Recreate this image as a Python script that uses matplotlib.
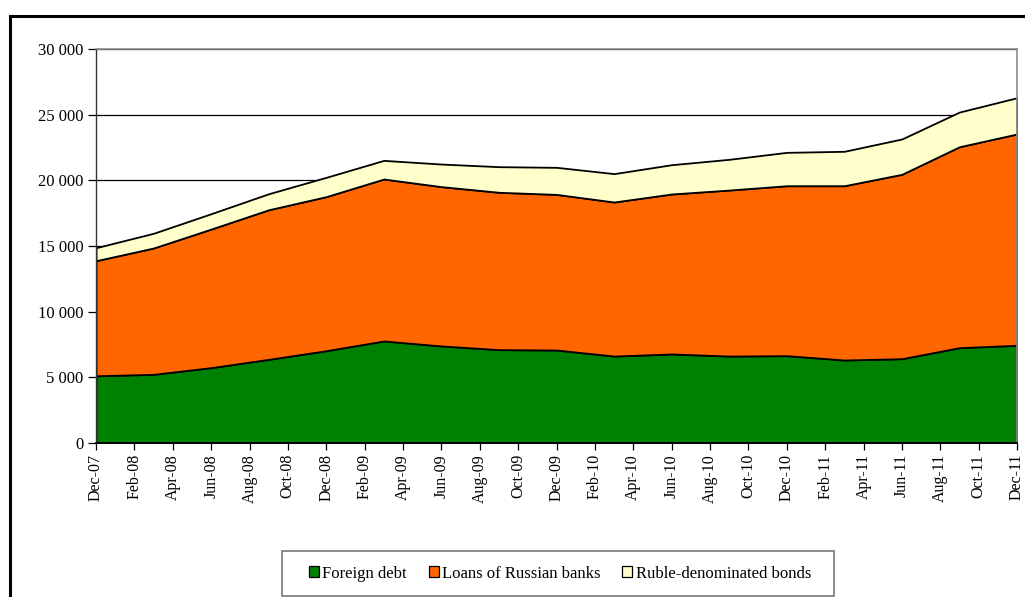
import matplotlib
matplotlib.use("Agg")
import matplotlib.pyplot as plt
from matplotlib.patches import Rectangle, Patch
from matplotlib.ticker import FuncFormatter, MultipleLocator

# Quarter-end observations, Dec-07 .. Dec-11
quarters = ["Dec-07", "Mar-08", "Jun-08", "Sep-08", "Dec-08", "Mar-09", "Jun-09",
            "Sep-09", "Dec-09", "Mar-10", "Jun-10", "Sep-10", "Dec-10", "Mar-11",
            "Jun-11", "Sep-11", "Dec-11"]
foreign_debt = [5120, 5230, 5740, 6370, 7030, 7770, 7390, 7110, 7080, 6620,
                6780, 6620, 6650, 6320, 6420, 7260, 7440]
russian_bank_loans = [8760, 9620, 10550, 11390, 11730, 12330, 12130, 11980, 11850,
                      11730, 12180, 12640, 12940, 13270, 14040, 15300, 16090]
ruble_bonds = [990, 1120, 1170, 1220, 1470, 1420, 1720, 1950, 2060, 2160,
               2230, 2340, 2540, 2620, 2690, 2640, 2760]

tick_labels = ["Dec-07", "Feb-08", "Apr-08", "Jun-08", "Aug-08", "Oct-08", "Dec-08",
               "Feb-09", "Apr-09", "Jun-09", "Aug-09", "Oct-09", "Dec-09", "Feb-10",
               "Apr-10", "Jun-10", "Aug-10", "Oct-10", "Dec-10", "Feb-11", "Apr-11",
               "Jun-11", "Aug-11", "Oct-11", "Dec-11"]

series_names = ["Foreign debt", "Loans of Russian banks", "Ruble-denominated bonds"]
colors = ["#008000", "#FF6600", "#FFFFCC"]

MONTHS = ["Jan", "Feb", "Mar", "Apr", "May", "Jun", "Jul", "Aug", "Sep", "Oct", "Nov", "Dec"]


def month_index(label):
    mon, yy = label.split("-")
    return (2000 + int(yy)) * 12 + MONTHS.index(mon)


base = month_index(quarters[0])
x = [month_index(q) - base for q in quarters]
tick_pos = [month_index(t) - base for t in tick_labels]

plt.rcParams["font.family"] = ["Liberation Serif", "DejaVu Serif"]

fig = plt.figure(figsize=(10.25, 5.97), dpi=100)
ax = fig.add_axes([96 / 1025, 1 - 443 / 597, (1017 - 96) / 1025, (443 - 49) / 597])

# stacked areas
lower = [0] * len(x)
for vals, col in zip([foreign_debt, russian_bank_loans, ruble_bonds], colors):
    upper = [a + b for a, b in zip(lower, vals)]
    ax.fill_between(x, lower, upper, facecolor=col, edgecolor="black",
                    linewidth=1.3, zorder=2)
    lower = upper

ax.set_xlim(0, 48)
ax.set_ylim(0, 30000)
ax.yaxis.set_major_locator(MultipleLocator(5000))
ax.yaxis.set_major_formatter(FuncFormatter(lambda v, p: f"{int(v):,}".replace(",", " ")))
ax.grid(axis="y", color="black", linewidth=0.9, zorder=0)
ax.set_axisbelow(True)

ax.set_xticks(tick_pos)
ax.set_xticklabels(tick_labels, rotation=90, fontsize=11.5)
ax.tick_params(axis="y", labelsize=12, length=6, width=0.9, direction="out", pad=3)
ax.tick_params(axis="x", length=5, width=0.9, direction="out", pad=3)

for side in ["top", "right"]:
    ax.spines[side].set_color("#8c8c8c")
    ax.spines[side].set_linewidth(1.2)
ax.spines["left"].set_color("#333333")
ax.spines["left"].set_linewidth(1.0)
ax.spines["bottom"].set_color("black")
ax.spines["bottom"].set_linewidth(1.3)

# legend (frame drawn separately)
handles = [Patch(facecolor=c, edgecolor="black", linewidth=0.9) for c in colors]
leg = fig.legend(handles, series_names, loc="center",
                 bbox_to_anchor=(560 / 1025, 1 - 573.5 / 597), ncol=3,
                 fontsize=12, frameon=False, handlelength=0.6,
                 handleheight=0.6, handletextpad=0.2, columnspacing=1.3)
fig.patches.append(Rectangle((282 / 1025, 1 - 596 / 597), (834 - 282) / 1025, 45 / 597,
                             transform=fig.transFigure, fill=False,
                             edgecolor="#777777", linewidth=1.2, zorder=1))

# outer frame of the chart area
fig.patches.append(Rectangle((10 / 1025, -0.05), 1.1, 1 - 16 / 597 + 0.05,
                             transform=fig.transFigure, fill=False,
                             edgecolor="black", linewidth=2.2, zorder=0))

fig.savefig("out.png", dpi=100)
